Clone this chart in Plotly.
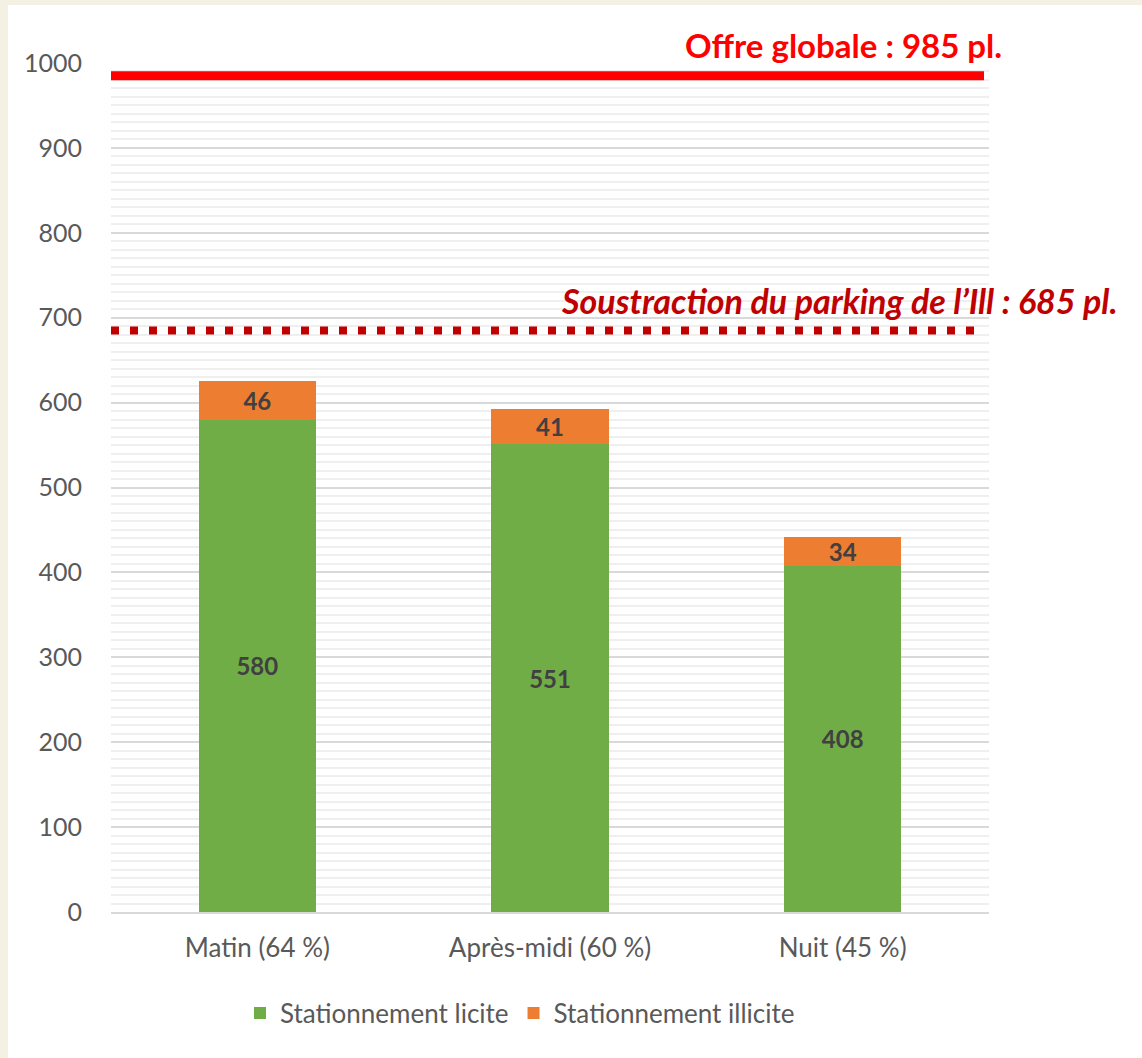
import plotly.graph_objects as go

categories = ["Matin (64 %)", "Après-midi (60 %)", "Nuit (45 %)"]
licite = [580, 551, 408]
illicite = [46, 41, 34]
offre_globale = 985
offre_sans_ill = 685
y_ticks = [0, 100, 200, 300, 400, 500, 600, 700, 800, 900, 1000]

W, H = 1142, 1058
L, R, T, B = 111, 989, 63, 912
pw, ph = R - L, B - T


def px(x):
    return (x - L) / pw


def py(y):
    return (B - y) / ph


FONT = "Lato"
label_font = dict(family=FONT, size=24, color="#404040", weight="bold")

fig = go.Figure()
fig.add_trace(go.Bar(
    x=categories, y=licite, name="Stationnement licite",
    marker=dict(color="#70ad47", line=dict(width=0)),
    text=[str(v) for v in licite], textposition="inside",
    insidetextanchor="middle", textangle=0, constraintext="none",
    textfont=label_font,
))
fig.add_trace(go.Bar(
    x=categories, y=illicite, name="Stationnement illicite",
    marker=dict(color="#ed7d31", line=dict(width=0)),
    text=[str(v) for v in illicite], textposition="inside",
    insidetextanchor="middle", textangle=0, constraintext="none",
    textfont=label_font,
))

shapes = [
    # white inner panel over beige background
    dict(type="rect", xref="paper", yref="paper", x0=px(8), x1=px(W + 5),
         y0=py(H + 5), y1=py(5), fillcolor="white", line=dict(width=0),
         layer="below"),
    dict(type="line", xref="paper", yref="y", x0=0, x1=px(984),
         y0=offre_globale, y1=offre_globale,
         line=dict(color="#ff0000", width=9)),
    dict(type="line", xref="paper", yref="y", x0=0, x1=px(983),
         y0=offre_sans_ill, y1=offre_sans_ill,
         line=dict(color="#c00000", width=8, dash="8px,11px")),
]

annotations = [
    dict(text="<b>Offre globale : 985 pl.</b>", xref="paper", yref="paper",
         x=px(1004), y=py(45), xanchor="right", yanchor="middle",
         showarrow=False, font=dict(family=FONT, size=33, color="#ff0000")),
    dict(text="<b><i>Soustraction du parking de l’Ill : 685 pl.</i></b>",
         xref="paper", yref="paper", x=px(1119), y=py(300),
         xanchor="right", yanchor="middle", showarrow=False,
         font=dict(family=FONT, size=34, color="#c00000")),
]

fig.update_layout(
    width=W, height=H,
    margin=dict(l=L, r=W - R, t=T, b=H - B, pad=0),
    barmode="stack", bargap=0.6,
    paper_bgcolor="#f4f0e4", plot_bgcolor="rgba(0,0,0,0)",
    font=dict(family=FONT, size=24, color="#595959"),
    shapes=shapes, annotations=annotations,
    showlegend=True,
    legend=dict(orientation="h", x=px(520), y=py(1013), xanchor="center",
                yanchor="middle", bgcolor="rgba(0,0,0,0)",
                font=dict(family=FONT, size=26, color="#595959"),
                traceorder="normal", itemwidth=30),
    xaxis=dict(showgrid=False, ticks="", showline=True, linecolor="#d9d9d9",
               linewidth=2, ticklabelstandoff=12,
               tickfont=dict(size=26, color="#595959")),
    yaxis=dict(range=[0, 1000], tickvals=y_ticks, showgrid=True,
               gridcolor="#d9d9d9", gridwidth=2, zeroline=False,
               showline=False, ticks="", ticklabelstandoff=28,
               tickfont=dict(size=25, color="#595959"),
               minor=dict(dtick=10, showgrid=True, gridcolor="#efefef",
                          gridwidth=2)),
)

fig.write_html("out.html", config={"displayModeBar": False},
               post_script="document.body.style.margin='0';")
